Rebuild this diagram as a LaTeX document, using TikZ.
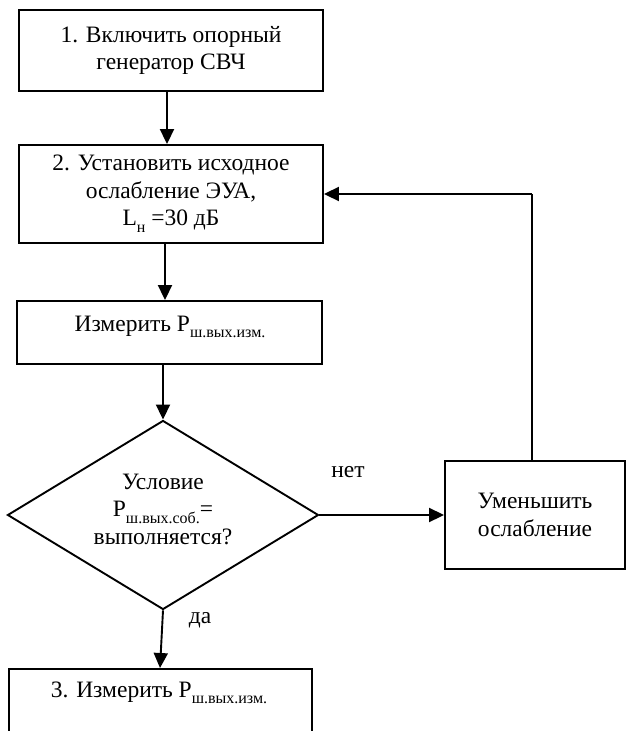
\documentclass[tikz,border=0pt]{standalone}
\usepackage{fontspec}
\setmainfont{Liberation Serif}
\usetikzlibrary{arrows.meta,shapes.geometric}
\newcommand\lowsub[1]{\raisebox{-0.28em}{\fontsize{16}{16}\selectfont #1}}
\begin{document}
\begin{tikzpicture}[x=1pt,y=-1pt,
  every node/.style={font=\fontsize{23.5}{27.5}\selectfont, align=center},
  box/.style={draw, line width=1.9pt, inner sep=0pt},
  conn/.style={line width=1.9pt, -{Triangle[length=15pt,width=14pt]}},
  plain/.style={line width=1.9pt},
  lbl/.style={inner sep=0pt}]
\useasboundingbox (0,0) rectangle (627,731);
\clip (0,0) rectangle (627,731);
% boxes
\node[box, minimum width=304pt, minimum height=81pt] (b1) at (171,50.5) {1. Включить опорный\\генератор СВЧ};
\node[box, minimum width=304pt, minimum height=98pt] (b2) at (171,194) {2. Установить исходное\\ослабление ЭУА,\\L\lowsub{н} =30 дБ};
\node[box, minimum width=305pt, minimum height=63pt] (b3) at (169.5,332.5) {};
\node[lbl] (b3t) at (170,327) {Измерить Р\lowsub{ш.вых.изм.}};
\node[draw, diamond, line width=1.9pt, inner sep=0pt, aspect=1.645,
      minimum width=311pt, minimum height=189pt] (d) at (163,515) {};
\node[lbl] (dt) at (163,509) {Условие\\Р\lowsub{ш.вых.соб.}=\\выполняется?};
\node[box, minimum width=180pt, minimum height=108pt] (b5) at (535,515) {Уменьшить\\ослабление};
\node[box, minimum width=303pt, minimum height=120pt, anchor=north] (b4) at (160.5,668) {};
\node[lbl] (b4t) at (159,693) {3. Измерить Р\lowsub{ш.вых.изм.}};
% labels
\node[lbl] (no) at (348,472) {нет};
\node[lbl] (yes) at (200,620) {да};
% connectors
\draw[conn] (b1.south -| 167,0) -- (b2.north -| 167,0);
\draw[conn] (b2.south -| 165,0) -- (b3.north -| 165,0);
\draw[conn] (b3.south -| 163,0) -- (d.north);
\draw[conn] (d.east) -- (b5.west);
\draw[conn] (d.south) -- (b4.north -| 160,0);
\coordinate (ret) at (532,194);
\draw[plain] (b5.north -| ret) -- (ret);
\draw[conn] (ret) -- (b2.east);
\end{tikzpicture}
\end{document}
